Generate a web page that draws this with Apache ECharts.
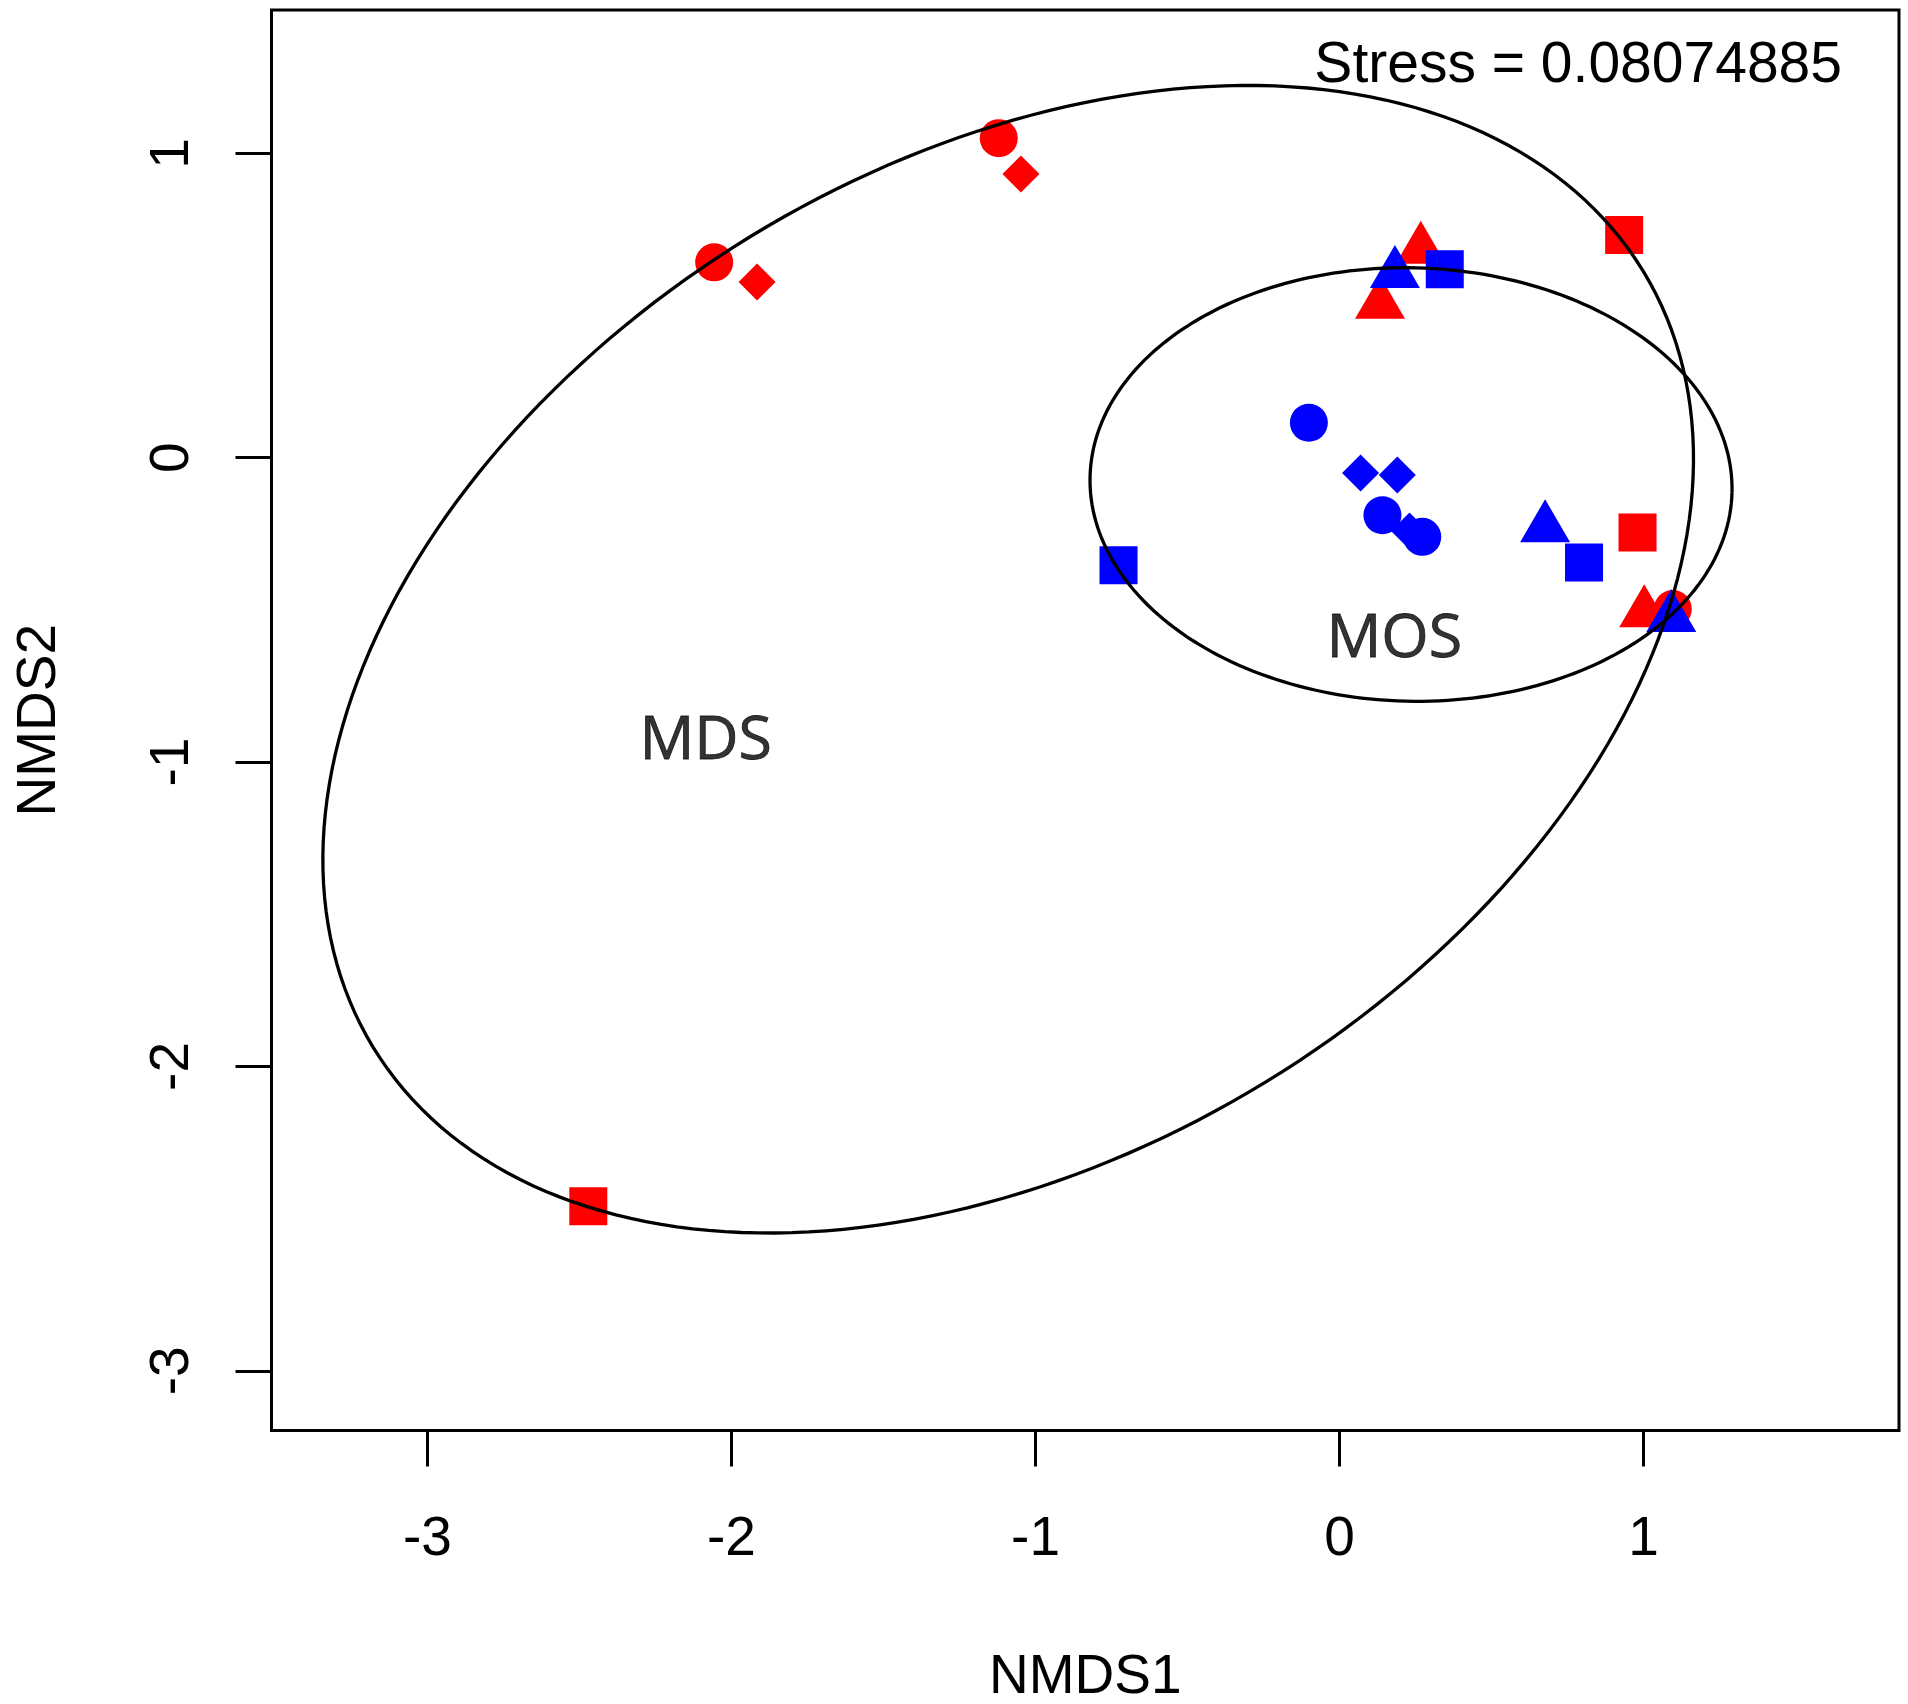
<!DOCTYPE html>
<html>
<head>
    <meta charset="UTF-8">
    <script src="https://cdn.jsdelivr.net/npm/echarts@6/dist/echarts.min.js"></script>
    <style>
        html, body { margin: 0; padding: 0; background: #fff; }
        #main { width: 1908px; height: 1704px; }
    </style>
</head>
<body>
<div id="main"></div>
<script type="text/javascript">
    // NMDS scores, [NMDS1, NMDS2]
    var mdsCircle   = [[-1.121, 1.050], [-2.057, 0.642], [1.096, -0.497]];
    var mdsDiamond  = [[-1.048, 0.932], [-1.916, 0.577]];
    var mdsSquare   = [[0.936, 0.732], [0.980, -0.246], [-2.471, -2.459]];
    var mdsTriangle = [[0.267, 0.685], [0.133, 0.504], [1.002, -0.509]];

    var mosDiamond  = [[0.069, -0.050], [0.190, -0.057], [0.230, -0.241]];
    var mosCircle   = [[-0.101, 0.115], [0.141, -0.189], [0.272, -0.260]];
    var mosSquare   = [[0.346, 0.619], [-0.727, -0.353], [0.804, -0.344]];
    var mosTriangle = [[0.182, 0.605], [0.676, -0.230], [1.091, -0.525]];

    // group ellipses: centre, semi-axes, rotation (deg)
    var groupNames   = ['MDS', 'MOS'];
    var ellipseCx    = [-1.09, 0.235];
    var ellipseCy    = [-0.662, -0.088];
    var ellipseA     = [2.447, 1.056];
    var ellipseB     = [1.627, 0.712];
    var ellipseAngle = [31.4, -1.4];
    var labelPos     = [[-2.085, -0.934], [0.180, -0.596]];

    var xTicks = [-3, -2, -1, 0, 1];
    var yTicks = [-3, -2, -1, 0, 1];
    var stressText = 'Stress = 0.08074885';

    var RED = '#ff0000', BLUE = '#0000ff';
    var tickFont = 'Liberation Sans, Arial, sans-serif';

    function pts(name, data, symbol, color, size, offset) {
        return {
            name: name,
            type: 'scatter',
            data: data,
            symbol: symbol,
            symbolSize: size,
            symbolOffset: offset || [0, 0],
            itemStyle: {color: color, opacity: 1},
            silent: true,
            z: 2
        };
    }

    var myChart = echarts.init(document.getElementById('main'), null, {renderer: 'canvas'});

    var option = {
        backgroundColor: '#fff',
        animation: false,
        grid: {
            left: 271.5,
            right: 9,
            top: 10,
            bottom: 273.5,
            show: true,
            borderColor: '#000',
            borderWidth: 3,
            backgroundColor: 'transparent',
            containLabel: false,
            outerBoundsMode: 'none'
        },
        xAxis: {
            type: 'value',
            min: -3.513,
            max: 1.84,
            name: 'NMDS1',
            nameLocation: 'middle',
            nameGap: 220,
            nameTextStyle: {fontFamily: tickFont, fontSize: 55, color: '#000'},
            axisLine: {show: false, onZero: false},
            splitLine: {show: false},
            axisTick: {
                show: true,
                customValues: xTicks,
                length: 36,
                inside: false,
                lineStyle: {color: '#000', width: 3}
            },
            axisLabel: {
                customValues: xTicks,
                margin: 82,
                fontFamily: tickFont,
                fontSize: 55,
                color: '#000'
            }
        },
        yAxis: {
            type: 'value',
            min: -3.196,
            max: 1.471,
            name: 'NMDS2',
            nameLocation: 'middle',
            nameGap: 204,
            nameTextStyle: {fontFamily: tickFont, fontSize: 55, color: '#000'},
            axisLine: {show: false, onZero: false},
            splitLine: {show: false},
            axisTick: {
                show: true,
                customValues: yTicks,
                length: 36,
                inside: false,
                lineStyle: {color: '#000', width: 3}
            },
            axisLabel: {
                customValues: yTicks,
                rotate: 90,
                margin: 71,
                fontFamily: tickFont,
                fontSize: 55,
                color: '#000'
            }
        },
        graphic: [{
            type: 'text',
            right: 66,
            top: 38,
            style: {
                text: stressText,
                font: '57px ' + tickFont,
                fill: '#000'
            }
        }],
        series: [
            pts('MDS circle', mdsCircle, 'circle', RED, 38),
            pts('MDS diamond', mdsDiamond, 'diamond', RED, [37, 37]),
            pts('MDS square', mdsSquare, 'rect', RED, [38, 38]),
            pts('MDS triangle', mdsTriangle, 'triangle', RED, [50, 43], [0, -7]),
            pts('MOS diamond', mosDiamond, 'diamond', BLUE, [37, 37]),
            pts('MOS circle', mosCircle, 'circle', BLUE, 38),
            pts('MOS square', mosSquare, 'rect', BLUE, [38, 38]),
            pts('MOS triangle', mosTriangle, 'triangle', BLUE, [50, 43], [0, -7]),
            {
                name: 'ellipses',
                type: 'custom',
                silent: true,
                z: 5,
                data: groupNames.map(function (n, i) { return [i]; }),
                renderItem: function (params, api) {
                    var i = params.dataIndex;
                    var th = ellipseAngle[i] * Math.PI / 180;
                    var points = [];
                    for (var k = 0; k <= 240; k++) {
                        var t = 2 * Math.PI * k / 240;
                        var x = ellipseCx[i] + ellipseA[i] * Math.cos(t) * Math.cos(th) - ellipseB[i] * Math.sin(t) * Math.sin(th);
                        var y = ellipseCy[i] + ellipseA[i] * Math.cos(t) * Math.sin(th) + ellipseB[i] * Math.sin(t) * Math.cos(th);
                        points.push(api.coord([x, y]));
                    }
                    return {
                        type: 'polyline',
                        shape: {points: points},
                        style: {stroke: '#000', lineWidth: 3.3, fill: null}
                    };
                }
            },
            {
                name: 'group labels',
                type: 'scatter',
                silent: true,
                z: 6,
                symbolSize: 0,
                data: groupNames.map(function (n, i) {
                    return {name: n, value: labelPos[i]};
                }),
                label: {
                    show: true,
                    position: 'inside',
                    formatter: '{b}',
                    fontFamily: 'Open Sans, sans-serif',
                    fontSize: 61,
                    color: '#000',
                    textBorderColor: '#000',
                    textBorderWidth: 0.8
                }
            }
        ]
    };
    myChart.setOption(option);
</script>
</body>
</html>
